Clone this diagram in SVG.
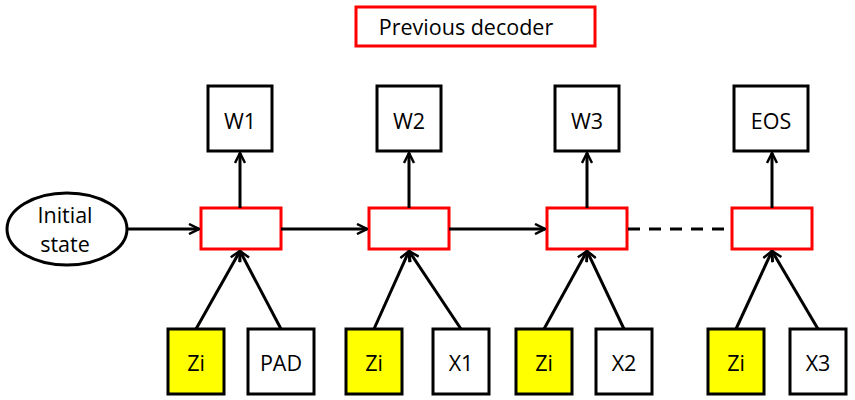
<svg xmlns="http://www.w3.org/2000/svg" width="855" height="400" viewBox="0 0 855 400">
<style>
.box{fill:#fff;stroke:#000;stroke-width:3}
.zi{fill:#ffff00;stroke:#000;stroke-width:3}
.cell{fill:#fff;stroke:#ff0000;stroke-width:3}
.con{stroke:#000;stroke-width:3;fill:none}
.dash{stroke:#000;stroke-width:3;fill:none;stroke-dasharray:12 9}
text{font-family:"Open Sans","Liberation Sans",sans-serif;font-size:21.5px;fill:#000;text-anchor:middle;dominant-baseline:central}
</style>
<defs>
<marker id="arr" viewBox="0 0 12 12" refX="11" refY="6" markerWidth="12" markerHeight="12" markerUnits="userSpaceOnUse" orient="auto">
<polyline points="1,1 11,6 1,11" fill="none" stroke="#000" stroke-width="2.5"/>
</marker>
</defs>
<g id="prev"><rect class="cell" x="356" y="7" width="239" height="39"/><text x="466" y="26">Previous decoder</text></g>
<g id="init"><ellipse cx="67" cy="229" rx="60" ry="36" fill="#fff" stroke="#000" stroke-width="3"/><text x="65" y="214">Initial</text><text x="65" y="243">state</text></g>
<g id="cell1"><rect class="cell" x="201" y="208" width="80" height="41"/></g>
<g id="cell2"><rect class="cell" x="369" y="208" width="80" height="41"/></g>
<g id="cell3"><rect class="cell" x="547" y="208" width="80" height="41"/></g>
<g id="cell4"><rect class="cell" x="732" y="208" width="80" height="41"/></g>
<g id="w1"><rect class="box" x="208" y="86" width="64" height="65"/><text x="240" y="120">W1</text></g>
<g id="w2"><rect class="box" x="377" y="86" width="64" height="65"/><text x="409" y="120">W2</text></g>
<g id="w3"><rect class="box" x="555" y="86" width="64" height="65"/><text x="587" y="120">W3</text></g>
<g id="eos"><rect class="box" x="734" y="86" width="74" height="65"/><text x="771" y="120">EOS</text></g>
<g id="zi1"><rect class="zi" x="168" y="329" width="56" height="65"/><text x="196" y="362">Zi</text></g>
<g id="pad"><rect class="box" x="248" y="329" width="66" height="65"/><text x="281" y="362">PAD</text></g>
<g id="zi2"><rect class="zi" x="346" y="329" width="56" height="65"/><text x="374" y="362">Zi</text></g>
<g id="x1"><rect class="box" x="433" y="329" width="56" height="65"/><text x="461" y="362">X1</text></g>
<g id="zi3"><rect class="zi" x="516" y="329" width="56" height="65"/><text x="544" y="362">Zi</text></g>
<g id="x2"><rect class="box" x="596" y="329" width="56" height="65"/><text x="624" y="362">X2</text></g>
<g id="zi4"><rect class="zi" x="708" y="329" width="56" height="65"/><text x="736" y="362">Zi</text></g>
<g id="x3"><rect class="box" x="790" y="329" width="56" height="65"/><text x="818" y="362">X3</text></g>
<g id="connectors">
<line class="con" x1="127" y1="229" x2="199" y2="229" marker-end="url(#arr)"/>
<line class="con" x1="281" y1="229" x2="367" y2="229" marker-end="url(#arr)"/>
<line class="con" x1="449" y1="229" x2="545" y2="229" marker-end="url(#arr)"/>
<line class="dash" x1="628" y1="229" x2="731" y2="229"/>
<line class="con" x1="240" y1="208" x2="240" y2="153" marker-end="url(#arr)"/>
<line class="con" x1="409" y1="208" x2="409" y2="153" marker-end="url(#arr)"/>
<line class="con" x1="587" y1="208" x2="587" y2="153" marker-end="url(#arr)"/>
<line class="con" x1="772" y1="208" x2="772" y2="153" marker-end="url(#arr)"/>
<line class="con" x1="196" y1="329" x2="240" y2="251" marker-end="url(#arr)"/>
<line class="con" x1="281" y1="329" x2="240" y2="251" marker-end="url(#arr)"/>
<line class="con" x1="374" y1="329" x2="409" y2="251" marker-end="url(#arr)"/>
<line class="con" x1="461" y1="329" x2="409" y2="251" marker-end="url(#arr)"/>
<line class="con" x1="544" y1="329" x2="587" y2="251" marker-end="url(#arr)"/>
<line class="con" x1="624" y1="329" x2="587" y2="251" marker-end="url(#arr)"/>
<line class="con" x1="736" y1="329" x2="772" y2="251" marker-end="url(#arr)"/>
<line class="con" x1="818" y1="329" x2="772" y2="251" marker-end="url(#arr)"/>
</g>
</svg>
